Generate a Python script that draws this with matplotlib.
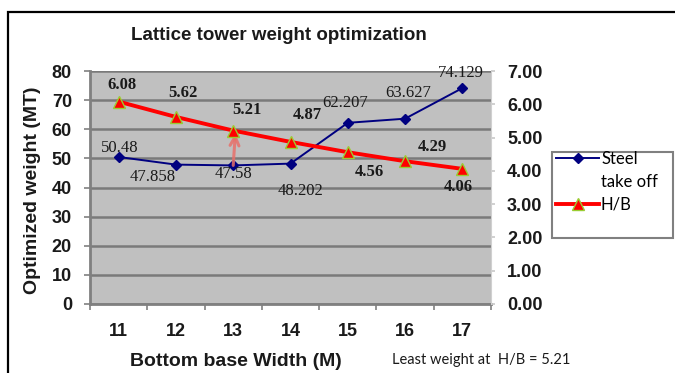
import matplotlib
matplotlib.use("Agg")
import matplotlib.pyplot as plt
from matplotlib.lines import Line2D
from matplotlib.patches import Rectangle

# bottom base width categories and the two series
widths = ["11", "12", "13", "14", "15", "16", "17"]
steel = [50.48, 47.858, 47.58, 48.202, 62.207, 63.627, 74.129]
hb = [6.08, 5.62, 5.21, 4.87, 4.56, 4.29, 4.06]

# label offsets in pixels (dx, dy) for each point
steel_off = [(1, 9), (-23, -12), (0, -9), (10, -27), (-3, 20), (3, 26), (-2, 15)]
hb_off = [(3, 17), (7, 24), (14, 21), (17, 27), (22, -20), (27, 14), (-4, -18)]

W, H = 675, 373
fig = plt.figure(figsize=(W / 100, H / 100), dpi=100)
fig.patch.set_facecolor("white")

def fx(px):
    return px / W

def fy(py):
    return 1 - py / H

ax = fig.add_axes([fx(90), fy(304), fx(491) - fx(90), fy(71) - fy(304)])
ax2 = ax.twinx()

x = list(range(len(widths)))
ax.set_facecolor("#c0c0c0")
ax.set_xlim(-0.5, len(widths) - 0.5)
ax.set_ylim(0, 80)
ax2.set_ylim(0, 7)
ax.set_yticks(range(0, 81, 10))
ax2.set_yticks(range(0, 8))
ax2.set_yticklabels([f"{v:.2f}" for v in range(0, 8)])

ax.yaxis.grid(True, color="#7a7a7a", lw=1.8)
ax.set_axisbelow(True)

for s in ["top", "right"]:
    ax.spines[s].set_visible(False)
    ax2.spines[s].set_visible(False)
ax2.spines["right"].set_visible(True)
ax2.spines["right"].set_color("#d0d0d0")
ax2.spines["left"].set_visible(False)
ax2.spines["bottom"].set_visible(False)
ax.spines["left"].set_color("#808080")
ax.spines["left"].set_linewidth(2)
ax.spines["bottom"].set_color("#808080")
ax.spines["bottom"].set_linewidth(2)

ax.set_xticks(x)
ax.set_xticklabels(widths)
ax.set_xticks([i - 0.5 for i in range(len(widths) + 1)], minor=True)
ax.tick_params(axis="x", which="major", length=0, pad=14, labelsize=13)
ax.tick_params(axis="x", which="minor", length=4, width=1.2, color="#808080")
ax.tick_params(axis="y", length=4.5, width=1.2, color="#808080", pad=8.5, labelsize=13)
ax2.tick_params(axis="y", length=3, width=1.2, color="#c8c8c8", pad=8.5, labelsize=13)
for lbl in ax.get_xticklabels() + ax.get_yticklabels() + ax2.get_yticklabels():
    lbl.set_fontweight("bold")
    lbl.set_family("Liberation Sans")
    lbl.set_color("#1a1a1a")

ax.plot(x, steel, color="#000080", lw=1.4, marker="D", ms=5.5, zorder=3)
ax2.plot(x, hb, color="#ff0000", lw=2.8, marker="^", ms=9,
         mfc="#ff0000", mec="#9acd32", mew=1, zorder=3)

for xi, v, (dx, dy) in zip(x, steel, steel_off):
    ax.annotate(f"{v:g}", (xi, v), xytext=(dx, dy), textcoords="offset pixels",
                ha="center", va="center", fontsize=12, family="Liberation Serif",
                color="#1a1a1a")
for xi, v, (dx, dy) in zip(x, hb, hb_off):
    ax2.annotate(f"{v:.2f}", (xi, v), xytext=(dx, dy), textcoords="offset pixels",
                 ha="center", va="center", fontsize=12, family="Liberation Serif",
                 fontweight="bold", color="#1a1a1a")

# arrow marking the least weight point
k = steel.index(min(steel))
ax.annotate("", xy=(k + 0.04, hb[k] * 80 / 7), xytext=(k, steel[k]),
            arrowprops=dict(arrowstyle="->", color="#e8706a", lw=2.2,
                            mutation_scale=16, alpha=0.85, shrinkA=0, shrinkB=2),
            zorder=5)

fig.text(fx(279), fy(35), "Lattice tower weight optimization", ha="center", va="center",
         fontsize=13.5, fontweight="bold", family="Liberation Sans", color="#1a1a1a")
fig.text(fx(33), fy(190), "Optimized weight (MT)", ha="center", va="center", rotation=90,
         fontsize=14, fontweight="bold", family="Liberation Sans", color="#1a1a1a")
fig.text(fx(236), fy(361), "Bottom base Width (M)", ha="center", va="center",
         fontsize=14, fontweight="bold", family="Liberation Sans", color="#1a1a1a")
fig.text(fx(481), fy(360), "Least weight at  H/B = 5.21", ha="center", va="center",
         fontsize=10.5, family="Lato", color="#1a1a1a")

# legend: a blank middle row carries the wrapped part of the first label
handles = [Line2D([], [], color="#000080", lw=1.4, marker="D", ms=5),
           Line2D([], [], linestyle="none"),
           Line2D([], [], color="#ff0000", lw=2.8, marker="^", ms=9,
                  mfc="#ff0000", mec="#9acd32")]
fig.legend(handles, ["Steel", "take off", "H/B"], loc="upper left",
           bbox_to_anchor=(fx(556), fy(151)), frameon=False,
           prop={"family": "Lato", "size": 12}, handlelength=2.6,
           handletextpad=0.1, labelspacing=0.4, borderpad=0, borderaxespad=0)
fig.patches.append(Rectangle((fx(552), fy(238)), fx(673) - fx(552), fy(152) - fy(238),
                             transform=fig.transFigure, fill=False,
                             edgecolor="#808080", lw=1.5))

# outer frame
fig.patches.append(Rectangle((fx(7.5), -0.1), 1.2, fy(12) + 0.1,
                             transform=fig.transFigure, fill=False,
                             edgecolor="black", lw=1.6))

fig.savefig("out.png", dpi=100)
